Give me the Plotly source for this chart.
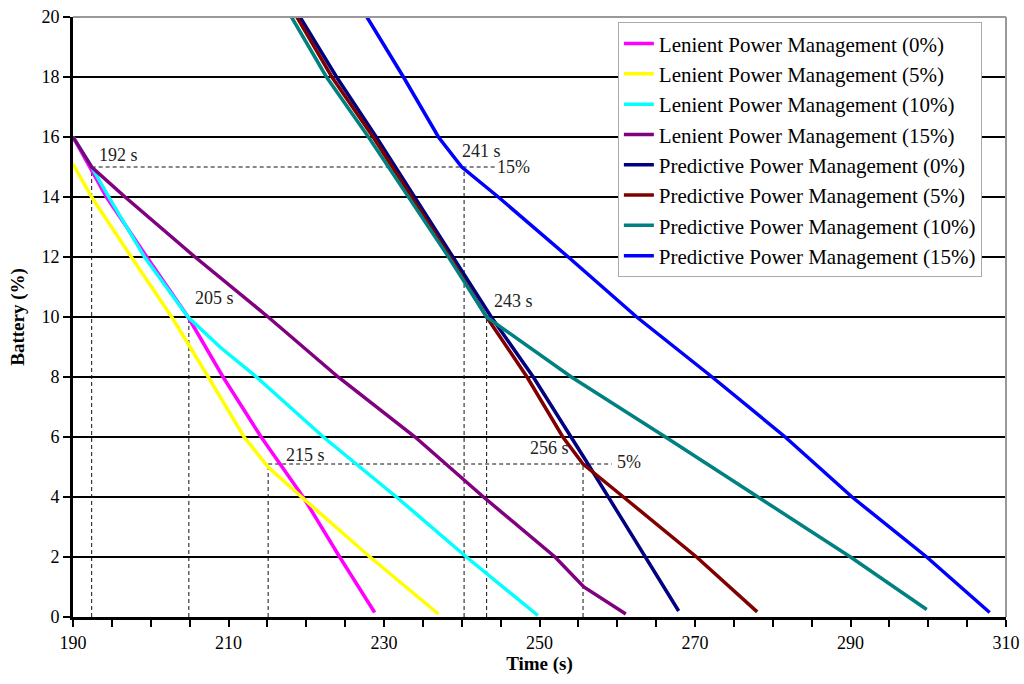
import plotly.graph_objects as go

# ---------------- data ----------------
series_names = [
    "Lenient Power Management (0%)",
    "Lenient Power Management (5%)",
    "Lenient Power Management (10%)",
    "Lenient Power Management (15%)",
    "Predictive Power Management (0%)",
    "Predictive Power Management (5%)",
    "Predictive Power Management (10%)",
    "Predictive Power Management (15%)",
]
series_colors = ["#FF00FF", "#FFFF00", "#00FFFF", "#800080",
                 "#000080", "#800000", "#008080", "#0000FF"]

len0_t = [190, 194.3, 199.5, 204.8, 209.3, 214.2, 219.6, 224.3, 228.8]
len0_b = [16, 14, 12, 10, 8, 6, 4, 2, 0.15]

len5_t = [190, 192.4, 197.5, 202.7, 207.4, 212.0, 215.1, 219.4, 228.2, 237.0]
len5_b = [15.1, 14, 12, 10, 8, 6, 5.0, 4, 2, 0.1]

len10_t = [190, 192.4, 194.6, 199.2, 204.8, 208.9, 213.6, 222.2, 231.6, 240.6, 249.8]
len10_b = [16, 15, 14, 12, 10, 9, 8, 6, 4, 2, 0.05]

len15_t = [190, 192.4, 196.7, 205.7, 215.1, 224.1, 234.0, 242.8, 252.0, 255.7, 261.1]
len15_b = [16, 15, 14, 12, 10, 8, 6, 4, 2, 1.0, 0.1]

pred0_t = [219.2, 223.9, 229.0, 238.8, 243.8, 249.2, 254.1, 256.0, 267.9]
pred0_b = [20, 18, 16, 12, 10, 8, 6, 5.2, 0.2]

pred5_t = [218.8, 223.3, 228.6, 238.5, 243.2, 248.4, 253.0, 255.6, 260.8, 270.2, 278.0]
pred5_b = [20, 18, 16, 12, 10, 8, 6, 5.1, 4, 2, 0.17]

pred10_t = [218.1, 222.6, 228.0, 238.3, 243.2, 249.2, 254.1, 266.2, 278.0, 290.0, 299.8]
pred10_b = [20, 18, 16, 12, 10, 8.9, 8, 6, 4, 2, 0.25]

pred15_t = [227.8, 232.5, 237.0, 240.0, 244.7, 253.7, 262.5, 272.2, 281.6, 290.2, 299.8, 307.9]
pred15_b = [20, 18, 16, 15, 14, 12, 10, 8, 6, 4, 2, 0.15]

series_t = [len0_t, len5_t, len10_t, len15_t, pred0_t, pred5_t, pred10_t, pred15_t]
series_b = [len0_b, len5_b, len10_b, len15_b, pred0_b, pred5_b, pred10_b, pred15_b]

# switching points (vertical dashed guides)
mark_t = [192.4, 204.9, 215.1, 240.3, 243.2, 255.6]
mark_b = [15, 10, 5.1, 15, 10, 5.1]

# horizontal dashed guides
hline_start = [192.4, 215.1]
hline_end = [244.5, 259.3]
hline_level = [15, 5.1]

# text labels
label_text = ["192 s", "205 s", "215 s", "241 s", "243 s", "256 s", "15%", "5%"]
label_t = [193.1, 205.4, 217.1, 239.8, 243.9, 248.5, 244.3, 259.7]
label_b = [15.39, 10.62, 5.39, 15.52, 10.52, 5.62, 14.99, 5.16]

x_tick_labels = [190, 210, 230, 250, 270, 290, 310]
y_tick_labels = [0, 2, 4, 6, 8, 10, 12, 14, 16, 18, 20]

FONT = "Liberation Serif, Times New Roman, serif"

# ---------------- figure ----------------
fig = go.Figure()

# dashed guides
vx, vy = [], []
for t, b in zip(mark_t, mark_b):
    vx += [t, t, None]
    vy += [0, b, None]
for s, e, lv in zip(hline_start, hline_end, hline_level):
    vx += [s, e, None]
    vy += [lv, lv, None]
fig.add_trace(go.Scatter(x=vx, y=vy, mode="lines", showlegend=False,
                         hoverinfo="skip",
                         line=dict(color="#111111", width=1, dash="4px,3px")))

for name, col, t, b in zip(series_names, series_colors, series_t, series_b):
    fig.add_trace(go.Scatter(x=t, y=b, mode="lines", name=name,
                             line=dict(color=col, width=3.5)))

for txt, t, b in zip(label_text, label_t, label_b):
    fig.add_annotation(x=t, y=b, text=txt, showarrow=False,
                       xanchor="left", yanchor="middle",
                       font=dict(family=FONT, size=18, color="#222222"))

# gray top/right frame
fig.add_shape(type="line", xref="paper", yref="paper", x0=0, x1=1, y0=1, y1=1,
              line=dict(color="#999999", width=2), layer="above")
fig.add_shape(type="line", xref="paper", yref="paper", x0=1, x1=1, y0=0, y1=1,
              line=dict(color="#999999", width=2), layer="above")

fig.update_layout(
    width=1024, height=684,
    margin=dict(l=73, r=18, t=17, b=67, autoexpand=False),
    paper_bgcolor="white", plot_bgcolor="white",
    font=dict(family=FONT, size=18, color="black"),
    showlegend=True,
    legend=dict(x=0.584, y=0.991, xanchor="left", yanchor="top",
                bgcolor="white", bordercolor="#AAAAAA", borderwidth=1,
                font=dict(family=FONT, size=21, color="black"),
                tracegroupgap=0),
    xaxis=dict(range=[190, 310], tickvals=x_tick_labels,
               ticks="outside", ticklen=7, tickwidth=2, tickcolor="black",
               minor=dict(dtick=5, tick0=190, ticks="outside", ticklen=7,
                          tickwidth=2, tickcolor="black", showgrid=False),
               showgrid=False, zeroline=False, automargin=False,
               showline=True, linecolor="black", linewidth=3,
               tickfont=dict(family=FONT, size=18),
               title=dict(text="<b>Time (s)</b>", standoff=4,
                          font=dict(family=FONT, size=19))),
    yaxis=dict(range=[0, 20], tickvals=y_tick_labels,
               ticks="outside", ticklen=7, tickwidth=2, tickcolor="black",
               showgrid=True, gridcolor="black", gridwidth=2,
               zeroline=False, automargin=False,
               showline=True, linecolor="black", linewidth=3,
               tickfont=dict(family=FONT, size=18),
               title=dict(text="<b>Battery (%)</b>", standoff=12,
                          font=dict(family=FONT, size=19))),
)

fig.write_html(
    "out.html",
    config={"displayModeBar": False},
    post_script="document.body.style.margin='0';document.body.style.overflow='hidden';",
)
